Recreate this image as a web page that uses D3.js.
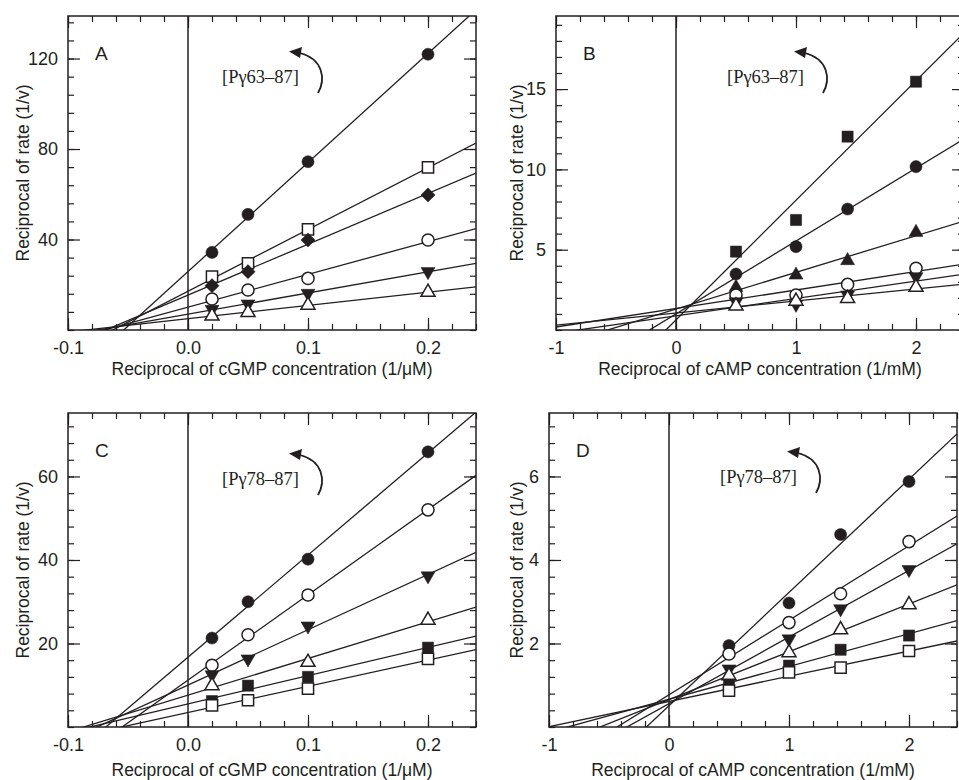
<!DOCTYPE html>
<html>
<head>
<meta charset="utf-8">
<title>Lineweaver-Burk plots</title>
<script src="https://cdn.jsdelivr.net/npm/d3@7"></script>
<style>
  html, body { margin: 0; padding: 0; background: #fff; }
  svg text { fill: #231f20; }
</style>
</head>
<body>
<svg id="chart" width="959" height="780"></svg>
<script>
// x values: reciprocal concentrations
const cgmpX = [0.02, 0.05, 0.1, 0.2];
const campX = [0.5, 1, 1.43, 2];

// marker order used in each panel
const markersA = ["circleFilled", "squareOpen", "diamondFilled", "circleOpen", "downFilled", "upOpen"];
const valuesA = [
  [34.3, 51.1, 74.4, 121.9],
  [23.6, 29.5, 44.5, 71.9],
  [19.6, 25.8, 39.8, 59.7],
  [13.7, 17.7, 22.8, 39.8],
  [9.1, 11.5, 16.2, 25.8],
  [6.2, 7.8, 11.0, 16.7]
];

const markersB = ["squareFilled", "circleFilled", "upFilled", "circleOpen", "downFilled", "upOpen"];
const valuesB = [
  [4.88, 6.85, 12.04, 15.46],
  [3.49, 5.19, 7.53, 10.17],
  [2.65, 3.42, 4.32, 6.08],
  [2.18, 2.18, 2.84, 3.84],
  [1.76, 1.6, 2.18, 3.32],
  [1.5, 1.8, 1.97, 2.66]
];

const markersC = ["circleFilled", "circleOpen", "downFilled", "upOpen", "squareFilled", "squareOpen"];
const valuesC = [
  [21.3, 30.0, 40.2, 65.9],
  [14.8, 22.1, 31.6, 52.0],
  [12.5, 16.3, 24.2, 36.2],
  [9.9, null, 15.5, 25.6],
  [6.2, 9.9, 12.0, 19.0],
  [5.2, 6.4, 9.2, 16.3]
];

const markersD = ["circleFilled", "circleOpen", "downFilled", "upOpen", "squareFilled", "squareOpen"];
const valuesD = [
  [1.95, 2.97, 4.61, 5.88],
  [1.75, 2.5, 3.19, 4.44],
  [1.39, 2.11, 2.83, 3.77],
  [1.23, 1.78, 2.33, 2.93],
  [1.02, 1.47, 1.85, 2.19],
  [0.87, 1.31, 1.42, 1.82]
];

// axis ticks
const cgmpTicks = [-0.1, 0, 0.1, 0.2];
const cgmpTickLabels = ["-0.1", "0.0", "0.1", "0.2"];
const campTicks = [-1, 0, 1, 2];
const campTickLabels = ["-1", "0", "1", "2"];
const yTicksA = [40, 80, 120];
const yTicksB = [5, 10, 15];
const yTicksC = [20, 40, 60];
const yTicksD = [2, 4, 6];

const ink = "#231f20";
const sans = "'Liberation Sans', Arial, sans-serif";
const PW = 408, PH = 314;
const svg = d3.select("#chart");

const panels = [
  { letter: "A", left: 68, top: 16, xDom: [-0.1, 0.24], yDom: [0, 138.8], xs: cgmpX, vals: valuesA, marks: markersA,
    xt: cgmpTicks, xtl: cgmpTickLabels, xMinor: 0.02, yt: yTicksA, yMinor: 8, ylabX: 23, xlabDy: 45,
    xlab: "Reciprocal of cGMP concentration (1/\u03bcM)", note: "[P\u03b363\u201387]", noteX: 222, noteY: 83 },
  { letter: "B", left: 556, top: 16, xDom: [-1, 2.4], yDom: [0, 19.55], xs: campX, vals: valuesB, marks: markersB,
    xt: campTicks, xtl: campTickLabels, xMinor: 0.2, yt: yTicksB, yMinor: 1, ylabX: 517, xlabDy: 45,
    xlab: "Reciprocal of cAMP concentration (1/mM)", note: "[P\u03b363\u201387]", noteX: 727, noteY: 83 },
  { letter: "C", left: 68, top: 413, xDom: [-0.1, 0.24], yDom: [0, 75.2], xs: cgmpX, vals: valuesC, marks: markersC,
    xt: cgmpTicks, xtl: cgmpTickLabels, xMinor: 0.02, yt: yTicksC, yMinor: 4, ylabX: 23, xlabDy: 49,
    xlab: "Reciprocal of cGMP concentration (1/\u03bcM)", note: "[P\u03b378\u201387]", noteX: 222, noteY: 485 },
  { letter: "D", left: 549, top: 413, xDom: [-1, 2.4], yDom: [0, 7.52], xs: campX, vals: valuesD, marks: markersD,
    xt: campTicks, xtl: campTickLabels, xMinor: 0.2, yt: yTicksD, yMinor: 0.4, ylabX: 517, xlabDy: 49,
    xlab: "Reciprocal of cAMP concentration (1/mM)", note: "[P\u03b378\u201387]", noteX: 720, noteY: 483 }
];

function minorTicks(dom, step) {
  const out = [];
  for (let v = Math.ceil(dom[0] / step - 1e-6); v * step <= dom[1] + 1e-9; v++) out.push(+(v * step).toFixed(6));
  return out;
}

// least-squares line through the points of one series
function fit(xs, ys) {
  const pts = xs.map((x, i) => [x, ys[i]]).filter(d => d[1] != null);
  const mx = d3.mean(pts, d => d[0]), my = d3.mean(pts, d => d[1]);
  const sxy = d3.sum(pts, d => (d[0] - mx) * (d[1] - my));
  const sxx = d3.sum(pts, d => (d[0] - mx) ** 2);
  const b = sxy / sxx;
  return { slope: b, icept: my - b * mx };
}

function symbolFor(type) {
  const s = d3.symbol();
  if (type.startsWith("circle")) return { d: s.type(d3.symbolCircle).size(115)(), rot: 0 };
  if (type.startsWith("square")) return { d: s.type(d3.symbolSquare).size(125)(), rot: 0 };
  if (type.startsWith("diamond")) return { d: s.type(d3.symbolSquare).size(100)(), rot: 45 };
  if (type.startsWith("up")) return { d: s.type(d3.symbolTriangle).size(85)(), rot: 0 };
  return { d: s.type(d3.symbolTriangle).size(85)(), rot: 180 };
}

panels.forEach((p, pi) => {
  const x = d3.scaleLinear().domain(p.xDom).range([p.left, p.left + PW]);
  const y = d3.scaleLinear().domain(p.yDom).range([p.top + PH, p.top]);
  const g = svg.append("g");
  const bottom = p.top + PH, right = p.left + PW;

  // clip for fitted lines
  svg.append("clipPath").attr("id", "clip" + pi)
    .append("rect").attr("x", p.left).attr("y", p.top).attr("width", PW).attr("height", PH);

  const xMin = minorTicks(p.xDom, p.xMinor);
  const yMin = minorTicks(p.yDom, p.yMinor);

  // tick marks on all four sides, pointing inwards
  const addAxis = (axis, tr) => {
    const a = g.append("g").attr("transform", tr).call(axis);
    a.select(".domain").remove();
    a.selectAll("line").attr("stroke", ink).attr("stroke-width", 1.2);
    return a;
  };
  addAxis(d3.axisBottom(x).tickValues(xMin).tickSize(-6).tickFormat(""), `translate(0,${bottom})`);
  addAxis(d3.axisTop(x).tickValues(xMin).tickSize(-6).tickFormat(""), `translate(0,${p.top})`);
  addAxis(d3.axisTop(x).tickValues(p.xt).tickSize(-12).tickFormat(""), `translate(0,${p.top})`);
  addAxis(d3.axisLeft(y).tickValues(yMin).tickSize(-6).tickFormat(""), `translate(${p.left},0)`);
  addAxis(d3.axisRight(y).tickValues(yMin).tickSize(-6).tickFormat(""), `translate(${right},0)`);
  addAxis(d3.axisRight(y).tickValues(p.yt).tickSize(-12).tickFormat(""), `translate(${right},0)`);

  const xb = addAxis(d3.axisBottom(x).tickValues(p.xt).tickSize(-12).tickPadding(11)
    .tickFormat((d, i) => p.xtl[i]), `translate(0,${bottom})`);
  const yl = addAxis(d3.axisLeft(y).tickValues(p.yt).tickSize(-12).tickPadding(10), `translate(${p.left},0)`);
  [xb, yl].forEach(a => a.selectAll("text")
    .attr("font-family", sans).attr("font-size", 18).attr("fill", ink));

  // frame
  g.append("rect").attr("x", p.left).attr("y", p.top).attr("width", PW).attr("height", PH)
    .attr("fill", "none").attr("stroke", ink).attr("stroke-width", 1.5);

  // zero line
  g.append("line").attr("x1", x(0)).attr("x2", x(0)).attr("y1", p.top).attr("y2", bottom)
    .attr("stroke", ink).attr("stroke-width", 1.5);

  // fitted lines
  const line = d3.line().x(d => x(d[0])).y(d => y(d[1]));
  p.vals.forEach(vs => {
    const f = fit(p.xs, vs);
    const ends = p.xDom.map(v => [v, f.icept + f.slope * v]);
    g.append("path").attr("d", line(ends)).attr("fill", "none")
      .attr("stroke", ink).attr("stroke-width", 1.3).attr("clip-path", `url(#clip${pi})`);
  });

  // markers
  p.vals.forEach((vs, si) => {
    const type = p.marks[si];
    const sym = symbolFor(type);
    const open = type.endsWith("Open");
    g.selectAll(null).data(p.xs.map((v, i) => [v, vs[i]]).filter(d => d[1] != null))
      .join("path")
      .attr("d", sym.d)
      .attr("transform", d => `translate(${x(d[0])},${y(d[1])}) rotate(${sym.rot})`)
      .attr("fill", open ? "#fff" : ink)
      .attr("stroke", ink).attr("stroke-width", open ? 1.5 : 0.5);
  });

  // panel letter
  g.append("text").attr("x", p.left + 27).attr("y", p.top + 44).text(p.letter)
    .attr("font-family", sans).attr("font-size", 19);

  // axis titles
  g.append("text").attr("x", p.left + PW / 2).attr("y", bottom + p.xlabDy).attr("text-anchor", "middle")
    .attr("font-family", sans).attr("font-size", 17.5).text(p.xlab);
  g.append("text").attr("transform", `translate(${p.ylabX},${p.top + PH / 2}) rotate(-90)`)
    .attr("text-anchor", "middle").attr("dy", "0.35em")
    .attr("font-family", sans).attr("font-size", 17.5).text("Reciprocal of rate (1/v)");

  // peptide annotation with curved arrow
  const n = g.append("g").attr("transform", `translate(${p.noteX},${p.noteY})`);
  n.append("text").text(p.note).attr("font-family", "'Liberation Serif', 'Times New Roman', serif").attr("font-size", 18.5);
  n.append("path").attr("d", "M96,10 C104,-4 101,-24 78,-30").attr("fill", "none")
    .attr("stroke", ink).attr("stroke-width", 1.8);
  n.append("path").attr("d", "M67,-31.5 L80,-36 L78,-25 Z").attr("fill", ink);
});
</script>
</body>
</html>
